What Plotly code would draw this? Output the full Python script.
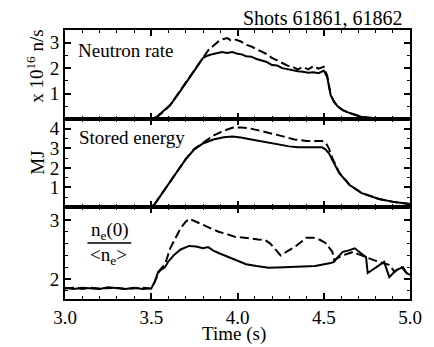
import plotly.graph_objects as go
from plotly.subplots import make_subplots

# ---------------- data ----------------
# Neutron rate (x 10^16 n/s)
t_n1 = [3.0, 3.5, 3.53, 3.57, 3.61, 3.65, 3.69, 3.73, 3.77, 3.80, 3.83, 3.86, 3.88, 3.91, 3.94, 3.97,
        4.00, 4.02, 4.05, 4.08, 4.11, 4.14, 4.17, 4.20, 4.23, 4.26, 4.29, 4.32, 4.35, 4.38, 4.41, 4.44,
        4.47, 4.50, 4.52, 4.54, 4.56, 4.58, 4.61, 4.64, 4.67, 4.72, 4.80, 4.90, 5.0]
n1 = [0, 0, 0.08, 0.3, 0.55, 0.92, 1.3, 1.7, 2.1, 2.4, 2.5, 2.56, 2.6, 2.63, 2.6, 2.63,
      2.57, 2.55, 2.47, 2.45, 2.36, 2.3, 2.24, 2.12, 2.1, 2.0, 1.95, 1.93, 1.88, 1.86, 1.82, 1.84,
      1.80, 1.9, 1.65, 0.94, 0.67, 0.5, 0.35, 0.26, 0.2, 0.08, 0.03, 0.01, 0.0]
t_n2 = [3.0, 3.5, 3.53, 3.57, 3.61, 3.65, 3.69, 3.73, 3.77, 3.80, 3.83, 3.86, 3.89, 3.92, 3.94, 3.96,
        3.99, 4.02, 4.05, 4.08, 4.11, 4.14, 4.17, 4.20, 4.23, 4.26, 4.29, 4.32, 4.35, 4.38, 4.41, 4.44,
        4.47, 4.50, 4.52, 4.54, 4.56, 4.58, 4.61, 4.64, 4.67, 4.72, 4.80, 4.90, 5.0]
n2 = [0, 0, 0.06, 0.28, 0.55, 0.95, 1.35, 1.75, 2.15, 2.45, 2.7, 2.88, 3.05, 3.15, 3.18, 3.1,
      3.12, 3.05, 2.92, 2.85, 2.75, 2.63, 2.55, 2.4, 2.3, 2.2, 2.1, 2.05, 1.95, 2.05, 1.95, 2.08,
      1.98, 2.05, 1.7, 0.96, 0.68, 0.5, 0.35, 0.26, 0.2, 0.08, 0.03, 0.01, 0.0]

# Stored energy (MJ)
t_w1 = [3.0, 3.5, 3.52, 3.56, 3.60, 3.65, 3.70, 3.75, 3.80, 3.86, 3.92, 3.97, 4.02, 4.08, 4.15,
        4.24, 4.30, 4.35, 4.42, 4.49, 4.51, 4.53, 4.55, 4.59, 4.65, 4.72, 4.82, 4.91, 5.0]
w1 = [0, 0, 0.15, 0.65, 1.2, 1.8, 2.45, 2.95, 3.25, 3.45, 3.57, 3.6, 3.55, 3.45, 3.33,
      3.2, 3.1, 3.05, 3.05, 3.05, 2.95, 2.75, 2.4, 1.73, 1.12, 0.71, 0.41, 0.25, 0.15]
t_w2 = [3.0, 3.5, 3.52, 3.56, 3.60, 3.65, 3.70, 3.75, 3.80, 3.86, 3.92, 3.97, 4.02, 4.07, 4.13,
        4.20, 4.27, 4.33, 4.40, 4.49, 4.51, 4.53, 4.55, 4.59, 4.65, 4.72, 4.82, 4.91, 5.0]
w2 = [0, 0, 0.15, 0.65, 1.2, 1.8, 2.45, 2.98, 3.3, 3.65, 3.9, 4.05, 4.07, 4.02, 3.9,
      3.76, 3.6, 3.45, 3.38, 3.37, 3.3, 3.0, 2.5, 1.76, 1.13, 0.72, 0.41, 0.25, 0.15]

# Peaking factor n_e(0)/<n_e>
t_p1 = [3.0, 3.05, 3.1, 3.15, 3.2, 3.25, 3.3, 3.35, 3.4, 3.45, 3.5, 3.52, 3.54, 3.58, 3.60, 3.63,
        3.67, 3.72, 3.76, 3.80, 3.83, 3.86, 3.89, 3.94, 3.99, 4.05, 4.11, 4.18, 4.27, 4.35, 4.45,
        4.54, 4.56, 4.57, 4.61, 4.64, 4.68, 4.71, 4.745, 4.755, 4.85, 4.88, 4.92, 4.96, 4.98, 5.0]
p1 = [1.85, 1.83, 1.85, 1.84, 1.83, 1.86, 1.84, 1.83, 1.85, 1.83, 1.84, 1.95, 2.12, 2.2, 2.3, 2.4,
      2.5, 2.56, 2.55, 2.52, 2.54, 2.48, 2.44, 2.38, 2.32, 2.25, 2.22, 2.19, 2.2, 2.21, 2.22,
      2.27, 2.29, 2.33, 2.46, 2.48, 2.52, 2.45, 2.37, 2.1, 2.29, 2.03, 2.15, 2.2, 2.1, 2.07]
t_p2 = [3.0, 3.05, 3.1, 3.15, 3.2, 3.25, 3.3, 3.35, 3.4, 3.45, 3.5, 3.52, 3.55, 3.58, 3.61, 3.64,
        3.67, 3.70, 3.72, 3.76, 3.80, 3.85, 3.89, 3.94, 3.99, 4.04, 4.08, 4.12, 4.16, 4.19, 4.22,
        4.25, 4.29, 4.33, 4.37, 4.40, 4.44, 4.48, 4.51, 4.55, 4.56, 4.59, 4.63, 4.67, 4.70, 4.74,
        4.79, 4.84, 4.88, 4.91, 4.95, 4.99]
p2 = [1.84, 1.85, 1.83, 1.85, 1.84, 1.84, 1.85, 1.83, 1.84, 1.85, 1.84, 1.95, 2.15, 2.25, 2.52, 2.7,
      2.86, 2.97, 3.02, 2.97, 2.92, 2.85, 2.8, 2.76, 2.71, 2.7, 2.68, 2.67, 2.66, 2.6, 2.5,
      2.4, 2.47, 2.54, 2.63, 2.7, 2.7, 2.66, 2.61, 2.46, 2.32, 2.37, 2.42, 2.46, 2.42, 2.37,
      2.32, 2.27, 2.24, 2.12, 2.2, 2.07]

x_ticks = [3.0, 3.5, 4.0, 4.5, 5.0]
x_ticktext = ["3.0", "3.5", "4.0", "4.5", "5.0"]

# ---------------- figure ----------------
FONT = "Liberation Serif"
fig = make_subplots(rows=3, cols=1, shared_xaxes=True, vertical_spacing=0)

solid = dict(color="black", width=2)
dashed = dict(color="black", width=2, dash="9px,4px")

fig.add_trace(go.Scatter(x=t_n1, y=n1, mode="lines", line=solid, showlegend=False), row=1, col=1)
fig.add_trace(go.Scatter(x=t_n2, y=n2, mode="lines", line=dashed, showlegend=False), row=1, col=1)
fig.add_trace(go.Scatter(x=t_w1, y=w1, mode="lines", line=solid, showlegend=False), row=2, col=1)
fig.add_trace(go.Scatter(x=t_w2, y=w2, mode="lines", line=dashed, showlegend=False), row=2, col=1)
fig.add_trace(go.Scatter(x=t_p1, y=p1, mode="lines", line=solid, showlegend=False), row=3, col=1)
fig.add_trace(go.Scatter(x=t_p2, y=p2, mode="lines", line=dashed, showlegend=False), row=3, col=1)

H_PLOT = 269.0
domains = [[(299 - 119) / H_PLOT, 1.0], [(299 - 207) / H_PLOT, (299 - 119) / H_PLOT], [0.0, (299 - 207) / H_PLOT]]

xcommon = dict(range=[3.0, 5.0], tickvals=x_ticks, ticktext=x_ticktext, ticks="inside", ticklen=6,
               tickwidth=1.5, tickcolor="black", showline=True, linecolor="black", linewidth=2,
               mirror="allticks", showgrid=False, zeroline=False,
               minor=dict(dtick=0.1, tick0=3.0, ticks="inside", ticklen=3, tickwidth=1.2, tickcolor="black"),
               tickfont=dict(family=FONT, size=19, color="black"))
ycommon = dict(ticks="inside", ticklen=6, tickwidth=1.5, tickcolor="black", showline=True,
               linecolor="black", linewidth=2, mirror="allticks", showgrid=False, zeroline=False,
               tickfont=dict(family=FONT, size=19, color="black"))

for i in range(3):
    fig.update_xaxes(row=i + 1, col=1, **xcommon)
    fig.update_yaxes(row=i + 1, col=1, domain=domains[i], **ycommon)
fig.update_xaxes(row=1, col=1, showticklabels=False)
fig.update_xaxes(row=2, col=1, showticklabels=False)
fig.update_xaxes(row=3, col=1, showticklabels=True)

fig.update_yaxes(row=1, col=1, range=[0, 3.5], tickvals=[1, 2, 3],
                 minor=dict(dtick=0.5, tick0=0, ticks="inside", ticklen=3, tickwidth=1.2, tickcolor="black"))
fig.update_yaxes(row=2, col=1, range=[0, 4.5], tickvals=[1, 2, 3, 4],
                 minor=dict(dtick=0.5, tick0=0, ticks="inside", ticklen=3, tickwidth=1.2, tickcolor="black"))
fig.update_yaxes(row=3, col=1, range=[1.66, 3.22], tickvals=[2, 3],
                 minor=dict(dtick=0.2, tick0=2, ticks="inside", ticklen=3, tickwidth=1.2, tickcolor="black"))

def px_x(px):
    return (px - 65) / 354.0

def px_y(py):
    return (299 - py) / H_PLOT

tfont = dict(family=FONT, size=19, color="black")
ann = [
    dict(text="Shots 61861, 61862", x=px_x(413), y=px_y(18), xanchor="right", yanchor="middle",
         font=dict(family=FONT, size=20, color="black")),
    dict(text="Neutron rate", x=px_x(76), y=px_y(50), xanchor="left", yanchor="middle"),
    dict(text="Stored energy", x=px_x(77), y=px_y(137), xanchor="left", yanchor="middle"),
    dict(text="Time (s)", x=px_x(238), y=px_y(334), xanchor="center", yanchor="middle", borderpad=0),
    dict(text="x 10<sup>16</sup> n/s", x=px_x(34), y=px_y(66), xanchor="center", yanchor="middle", textangle=-90),
    dict(text="MJ", x=px_x(36), y=px_y(163), xanchor="center", yanchor="middle", textangle=-90),
    dict(text="n<sub>e</sub>(0)", x=px_x(111), y=px_y(231), xanchor="center", yanchor="middle"),
    dict(text="&lt;n<sub>e</sub>&gt;", x=px_x(110), y=px_y(256), xanchor="center", yanchor="middle"),
]
for a in ann:
    if "font" not in a:
        a["font"] = tfont
    fig.add_annotation(xref="paper", yref="paper", showarrow=False, **a)

fig.add_shape(type="line", xref="paper", yref="paper", x0=px_x(88), x1=px_x(133),
              y0=px_y(243), y1=px_y(243), line=dict(color="black", width=1.5))

fig.update_layout(width=434, height=347, margin=dict(l=65, r=15, t=30, b=48),
                  paper_bgcolor="white", plot_bgcolor="white", showlegend=False,
                  font=dict(family=FONT, color="black"))

fig.write_html("out.html")
